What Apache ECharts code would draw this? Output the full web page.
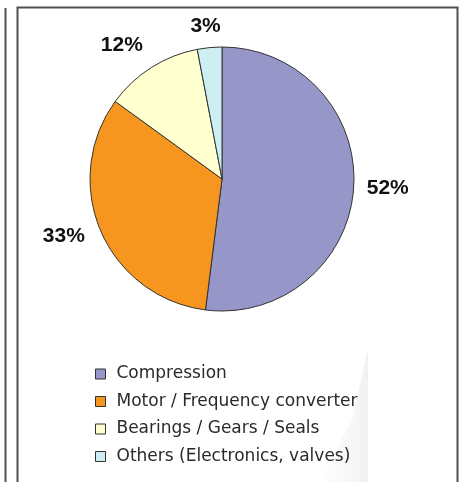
<!DOCTYPE html>
<html>
<head>
<meta charset="utf-8">
<script src="https://cdn.jsdelivr.net/npm/echarts@6/dist/echarts.min.js"></script>
<style>
html,body{margin:0;padding:0;background:#fff;}
#chart{width:464px;height:482px;}
</style>
</head>
<body>
<div id="chart"></div>
<script>
const categories = ['Compression', 'Motor / Frequency converter', 'Bearings / Gears / Seals', 'Others (Electronics, valves)'];
const shares = [52, 33, 12, 3];
const sliceColors = ['#9696C8', '#F7961E', '#FFFFD0', '#CDEEF3'];
const labelLines = [[8, 0], [12, 0], [27, -11], [21, -3]];

const chart = echarts.init(document.getElementById('chart'), null, {renderer: 'canvas'});

const data = categories.map((name, i) => ({
  name: name,
  value: shares[i],
  itemStyle: {color: sliceColors[i]},
  labelLine: {show: false, length: labelLines[i][0], length2: labelLines[i][1]}
}));

chart.setOption({
  backgroundColor: '#ffffff',
  animation: false,
  graphic: [
    {type: 'polygon', silent: true, z: -1,
     shape: {points: [[368, 348], [368, 482], [318, 482], [352, 420]]},
     style: {fill: new echarts.graphic.LinearGradient(0, 0, 1, 0, [
        {offset: 0, color: 'rgba(0,0,0,0)'},
        {offset: 1, color: 'rgba(0,0,0,0.05)'}])}},
    {type: 'line', silent: true, shape: {x1: 5.5, y1: 8, x2: 5.5, y2: 482},
     style: {stroke: '#505050', lineWidth: 2}},
    {type: 'polyline', silent: true,
     shape: {points: [[17.5, 482], [17.5, 7.5], [457.5, 7.5], [457.5, 482]]},
     style: {stroke: '#505050', lineWidth: 2, fill: null}}
  ],
  legend: {
    orient: 'vertical',
    left: 95,
    top: 364,
    padding: 0,
    itemGap: 7.5,
    itemWidth: 10,
    itemHeight: 10,
    icon: 'rect',
    selectedMode: false,
    itemStyle: {borderColor: '#333', borderWidth: 1},
    textStyle: {fontFamily: 'DejaVu Sans', fontSize: 17, color: '#2a2a2a', lineHeight: 20, padding: [0, 0, 0, 6]},
    data: categories
  },
  series: [{
    type: 'pie',
    center: [222, 179],
    radius: 132,
    startAngle: 90,
    clockwise: true,
    avoidLabelOverlap: false,
    silent: true,
    itemStyle: {borderColor: '#333', borderWidth: 1},
    label: {
      show: true,
      position: 'outside',
      formatter: '{c}%',
      fontFamily: 'Liberation Sans',
      fontWeight: 'bold',
      fontSize: 21,
      lineHeight: 14,
      color: '#111'
    },
    labelLayout: function (params) {
      if (params.dataIndex === 3) return {align: 'center'};
      return {};
    },
    data: data
  }]
});
</script>
</body>
</html>
